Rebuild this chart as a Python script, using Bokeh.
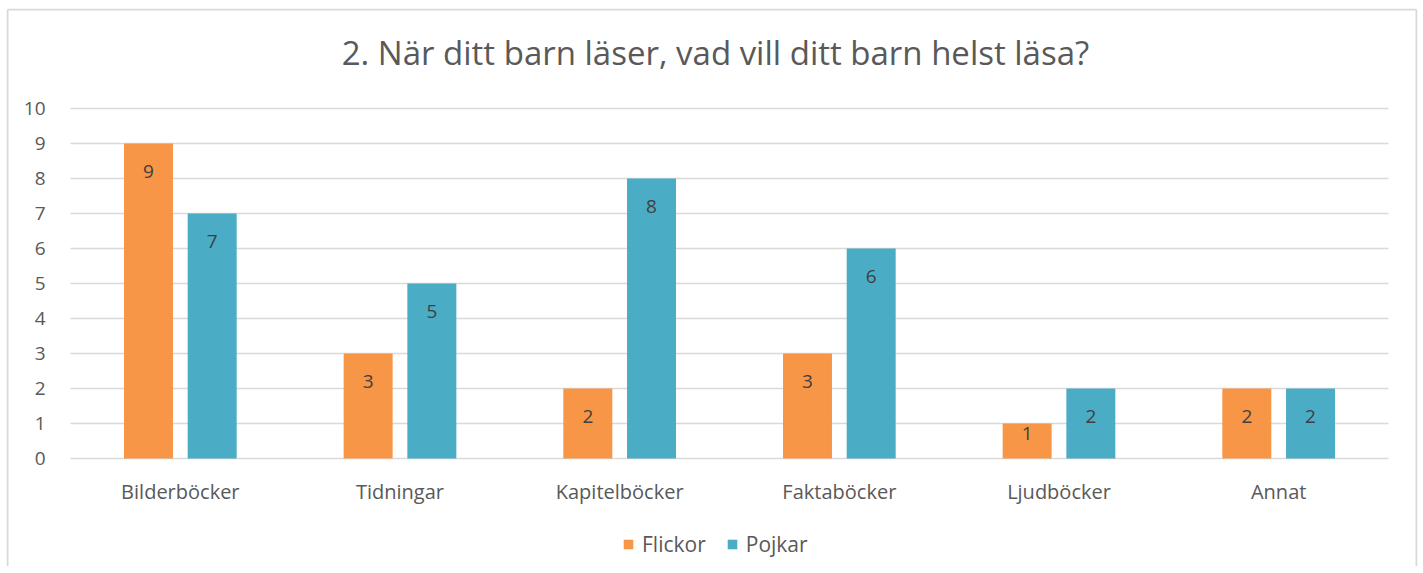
from bokeh.plotting import figure
from bokeh.models import ColumnDataSource, Range1d, Legend, LegendItem, Label
from bokeh.core.properties import value
from bokeh.embed import file_html
from bokeh.resources import INLINE

categories = ["Bilderböcker", "Tidningar", "Kapitelböcker", "Faktaböcker", "Ljudböcker", "Annat"]
flickor = [9, 3, 2, 3, 1, 2]
pojkar = [7, 5, 8, 6, 2, 2]
y_ticks = list(range(0, 11))
title_text = "2. När ditt barn läser, vad vill ditt barn helst läsa?"

FONT = "Open Sans"
GRAY = "#595959"
DARK = "#404040"
GRID = "#D9D9D9"
ORANGE = "#F79646"
TEAL = "#4BACC6"

# layout (pixels)
W, H = 1418, 566
FR_L, FR_T = 6, 8                      # chart border (frame) origin
PLOT_L, PLOT_R = 70, 1388              # plot area in canvas px
ZERO_Y, TOP_Y = 458, 108               # y of value 0 and value 10
frame_w = W - FR_L - 1
frame_h = H - FR_T
n = len(categories)
ymax = max(y_ticks)
px_x = (PLOT_R - PLOT_L) / n
px_y = (ZERO_Y - TOP_Y) / ymax

x_start = -(PLOT_L - FR_L) / px_x
x_end = n + (FR_L + frame_w - PLOT_R) / px_x
y_end = ymax + (TOP_Y - FR_T) / px_y
y_start = -(FR_T + frame_h - ZERO_Y) / px_y

p = figure(
    width=W, height=H,
    x_range=Range1d(x_start, x_end), y_range=Range1d(y_start, y_end),
    x_axis_location=None, y_axis_location=None,
    output_backend="svg", toolbar_location=None,
    min_border_left=FR_L, min_border_top=FR_T, min_border_right=1, min_border_bottom=0,
)
p.outline_line_color = None
p.background_fill_color = "white"
p.border_fill_color = "white"
p.xgrid.visible = False
p.ygrid.visible = False

# chart border (left, top, right; bottom is outside the window)
bx0 = x_start + 1 / px_x
bx1 = x_end - 1 / px_x
by1 = y_end - 1 / px_y
p.segment(x0=[bx0, bx0, bx1], y0=[y_start, by1, by1], x1=[bx0, bx1, bx1], y1=[by1, by1, y_start],
          line_color=GRID, line_width=2)

# gridlines
p.segment(x0=[0] * len(y_ticks), x1=[n] * len(y_ticks), y0=y_ticks, y1=y_ticks,
          line_color=GRID, line_width=1.6)

centers = [i + 0.5 for i in range(n)]
off = 0.145
w = 0.223


def label_y(vals):
    return [v - min(28, v * px_y - 25) / px_y for v in vals]


src = ColumnDataSource(dict(
    cat=categories,
    xf=[c - off for c in centers],
    xp=[c + off for c in centers],
    flickor=flickor,
    pojkar=pojkar,
    fy=label_y(flickor),
    py=label_y(pojkar),
    flickor_txt=[str(v) for v in flickor],
    pojkar_txt=[str(v) for v in pojkar],
))

r1 = p.vbar(x="xf", top="flickor", bottom=0, width=w, source=src, fill_color=ORANGE, line_color=None)
r2 = p.vbar(x="xp", top="pojkar", bottom=0, width=w, source=src, fill_color=TEAL, line_color=None)

p.text(x="xf", y="fy", text="flickor_txt", source=src, text_font=value(FONT), text_font_size="19px",
       text_color=DARK, text_align="center", text_baseline="middle")
p.text(x="xp", y="py", text="pojkar_txt", source=src, text_font=value(FONT), text_font_size="19px",
       text_color=DARK, text_align="center", text_baseline="middle")

# category labels
p.text(x=centers, y=[0] * n, text=categories, text_font=value(FONT), text_font_size="20px",
       text_color=GRAY, text_align="center", text_baseline="middle", y_offset=33)

# y tick labels
p.text(x=[0] * len(y_ticks), y=y_ticks, text=[str(t) for t in y_ticks], text_font=value(FONT),
       text_font_size="19px", text_color=GRAY, text_align="right", text_baseline="middle",
       x_offset=-25)

title = Label(x=n / 2, y=ymax + (TOP_Y - 52) / px_y, x_offset=-14, text=title_text,
              text_align="center", text_baseline="middle",
              text_font=FONT, text_font_size="33px", text_color=GRAY)
p.add_layout(title)

legend = Legend(items=[LegendItem(label="Flickor", renderers=[r1]),
                       LegendItem(label="Pojkar", renderers=[r2])],
                orientation="horizontal", location=(616, 8))
legend.label_text_font = FONT
legend.label_text_font_size = "21px"
legend.label_text_color = GRAY
legend.glyph_width = 12
legend.glyph_height = 12
legend.label_standoff = 8
legend.spacing = 20
legend.border_line_color = None
legend.background_fill_alpha = 0
legend.margin = 0
legend.padding = 0
p.add_layout(legend, "center")

open("out.html", "w").write(file_html(p, INLINE))
